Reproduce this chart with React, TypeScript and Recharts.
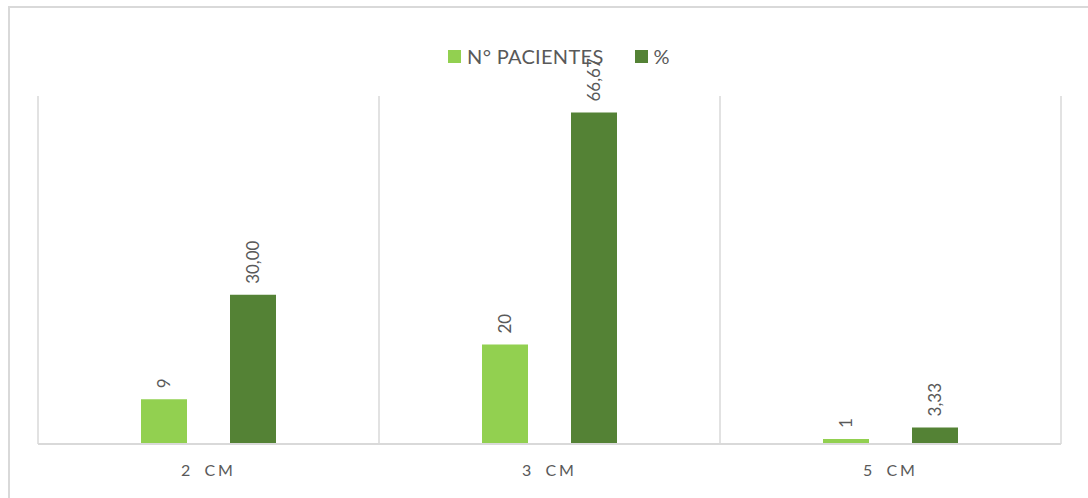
import React from "react";
import { BarChart, Bar, XAxis, YAxis, CartesianGrid, LabelList } from "recharts";

const categories = ["2 CM", "3 CM", "5 CM"];
const pacientes = [9, 20, 1];
const porcentaje = [30.0, 66.67, 3.33];
const pacientesLabels = ["9", "20", "1"];
const porcentajeLabels = ["30,00", "66,67", "3,33"];

const LIGHT = "#92D050";
const DARK = "#548235";
const TEXT = "#595959";
const GRID = "#D9D9D9";
const FONT = "Lato, 'Open Sans', sans-serif";

const data = categories.map((c, i) => ({
  name: c,
  pacientes: pacientes[i],
  pct: porcentaje[i],
  pacLabel: pacientesLabels[i],
  pctLabel: porcentajeLabels[i],
}));

function RotatedLabel(props: any) {
  const { x, y, width, value } = props;
  const cx = Number(x) + Number(width) / 2;
  const cy = Number(y) - 11;
  return (
    <text
      x={cx}
      y={cy}
      transform={`rotate(-90, ${cx}, ${cy})`}
      textAnchor="start"
      dominantBaseline="central"
      fill={TEXT}
      fontSize={17}
      fontFamily={FONT}
    >
      {value}
    </text>
  );
}

function CategoryTick(props: any) {
  const { x, y, payload } = props;
  return (
    <text
      x={x}
      y={y + 24}
      textAnchor="middle"
      fill={TEXT}
      fontSize={16}
      fontFamily={FONT}
      letterSpacing={3}
      wordSpacing={4}
    >
      {payload.value}
    </text>
  );
}

function LegendBox() {
  const items = [
    { label: "N° PACIENTES", color: LIGHT },
    { label: "%", color: DARK },
  ];
  return (
    <div
      style={{
        position: "absolute",
        top: 36,
        left: 10,
        width: 1078,
        display: "flex",
        justifyContent: "center",
        gap: 31,
        fontFamily: FONT,
        pointerEvents: "none",
      }}
    >
      {items.map((it) => (
        <div
          key={it.label}
          style={{ display: "flex", alignItems: "center", color: TEXT, fontSize: 20, letterSpacing: 0.3 }}
        >
          <span style={{ width: 13, height: 13, background: it.color, display: "inline-block", marginRight: 6 }} />
          {it.label}
        </div>
      ))}
    </div>
  );
}

export default function App() {
  return (
    <div
      style={{
        position: "absolute",
        left: 8,
        top: 6,
        width: 1100,
        height: 510,
        border: `2px solid ${GRID}`,
        background: "#fff",
        overflow: "hidden",
      }}
    >
      <BarChart
        width={1078}
        height={490}
        data={data}
        margin={{ top: 88, right: 27, left: 28, bottom: 24 }}
        barGap={43}
        barSize={46}
      >
        <CartesianGrid
          horizontal={false}
          stroke={GRID}
          strokeWidth={1.5}
          verticalCoordinatesGenerator={({ offset }: any) =>
            [0, 1, 2, 3].map((i) => offset.left + (i * offset.width) / 3)
          }
        />
        <XAxis
          dataKey="name"
          tickLine={false}
          axisLine={{ stroke: GRID, strokeWidth: 2 }}
          tick={<CategoryTick />}
          height={30}
          interval={0}
        />
        <YAxis hide domain={[0, 70]} />
        <Bar dataKey="pacientes" name="N° PACIENTES" fill={LIGHT} isAnimationActive={false}>
          <LabelList dataKey="pacLabel" content={<RotatedLabel />} />
        </Bar>
        <Bar dataKey="pct" name="%" fill={DARK} isAnimationActive={false}>
          <LabelList dataKey="pctLabel" content={<RotatedLabel />} />
        </Bar>
      </BarChart>
      <LegendBox />
    </div>
  );
}
